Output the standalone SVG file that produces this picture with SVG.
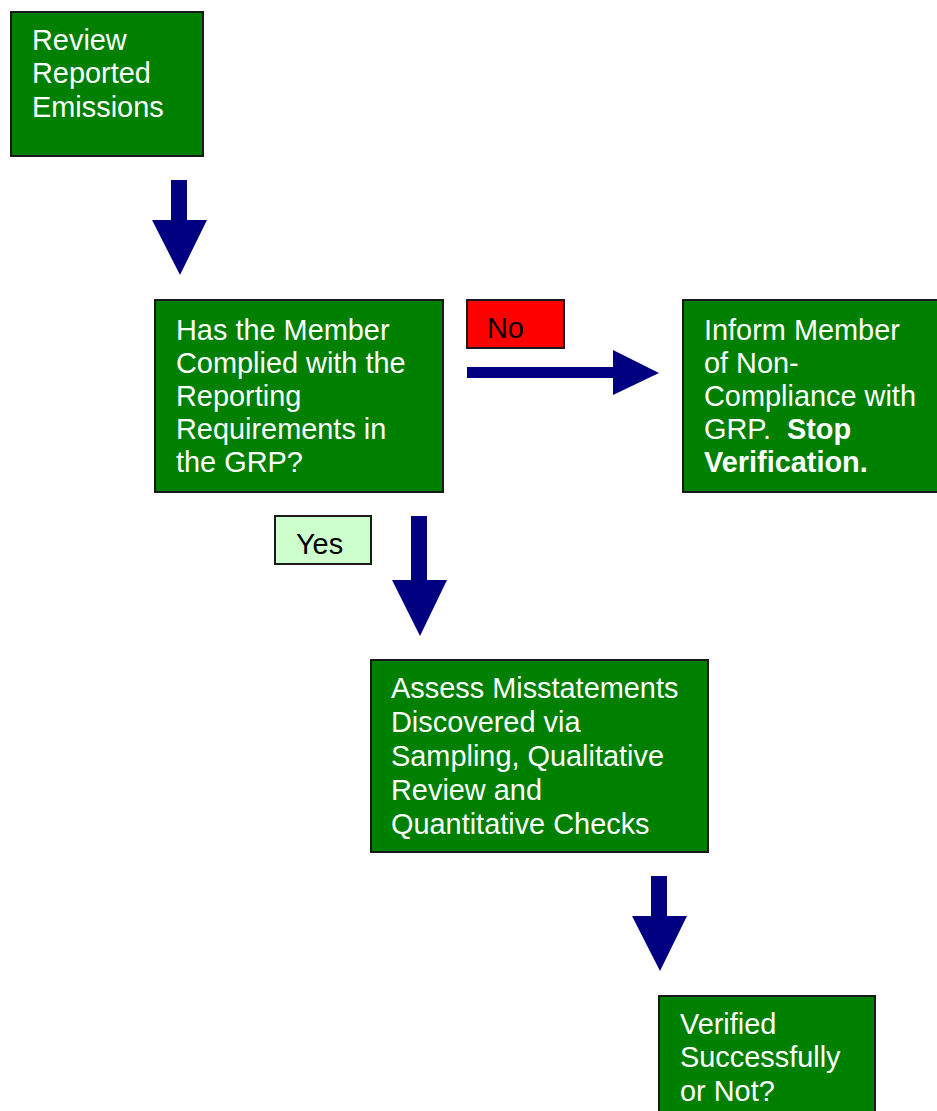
<svg xmlns="http://www.w3.org/2000/svg" width="937" height="1111" viewBox="0 0 937 1111">
<style>
.box{fill:#008000;stroke:#1a1a1a;stroke-width:2}
.t{font-family:"Liberation Sans",Arial,sans-serif;font-size:28.9px;fill:#ffffff}
.lt{font-family:"Liberation Sans",Arial,sans-serif;font-size:28.9px;fill:#000000}
.b{font-weight:bold}
.arrow{fill:#000080}
</style>
<rect width="937" height="1111" fill="#ffffff"/>
<g id="connectors">
<polygon class="arrow" points="171,180 187,180 187,220 207,220 180,275 152,220 171,220"/>
<polygon class="arrow" points="467,367 613,367 613,350 659,373 613,395 613,378 467,378"/>
<polygon class="arrow" points="411,516 427,516 427,580 447,580 420,636 392,580 411,580"/>
<polygon class="arrow" points="651,876 667,876 667,916 687,916 660,971 632,916 651,916"/>
</g>
<g id="node-review">
<rect class="box" x="11" y="12" width="192" height="144"/>
<text class="t" x="32" y="49.5">Review</text>
<text class="t" x="32" y="83">Reported</text>
<text class="t" x="32" y="116.5">Emissions</text>
</g>
<g id="node-complied">
<rect class="box" x="155" y="300" width="288" height="192"/>
<text class="t" x="176" y="339.5">Has the Member</text>
<text class="t" x="176" y="372.5">Complied with the</text>
<text class="t" x="176" y="406">Reporting</text>
<text class="t" x="176" y="439">Requirements in</text>
<text class="t" x="176" y="472">the GRP?</text>
</g>
<g id="label-no">
<rect x="467" y="300" width="97" height="48" fill="#ff0000" stroke="#1a1a1a" stroke-width="2"/>
<text class="lt" x="487" y="337.5">No</text>
</g>
<g id="node-inform">
<rect class="box" x="683" y="300" width="260" height="192"/>
<text class="t" x="704" y="339.5">Inform Member</text>
<text class="t" x="704" y="372.5">of Non-</text>
<text class="t" x="704" y="406">Compliance with</text>
<text class="t" x="704" y="439">GRP.&#160; <tspan class="b">Stop</tspan></text>
<text class="t b" x="704" y="472">Verification.</text>
</g>
<g id="label-yes">
<rect x="275" y="516" width="96" height="48" fill="#ccffcc" stroke="#1a1a1a" stroke-width="2"/>
<text class="lt" x="296" y="553.5">Yes</text>
</g>
<g id="node-assess">
<rect class="box" x="371" y="660" width="337" height="192"/>
<text class="t" x="391" y="697.5">Assess Misstatements</text>
<text class="t" x="391" y="731.5">Discovered via</text>
<text class="t" x="391" y="765.5">Sampling, Qualitative</text>
<text class="t" x="391" y="799.5">Review and</text>
<text class="t" x="391" y="833.5">Quantitative Checks</text>
</g>
<g id="node-verified">
<rect class="box" x="659" y="996" width="216" height="125"/>
<text class="t" x="680" y="1033.5">Verified</text>
<text class="t" x="680" y="1067">Successfully</text>
<text class="t" x="680" y="1100.5">or Not?</text>
</g>
</svg>
